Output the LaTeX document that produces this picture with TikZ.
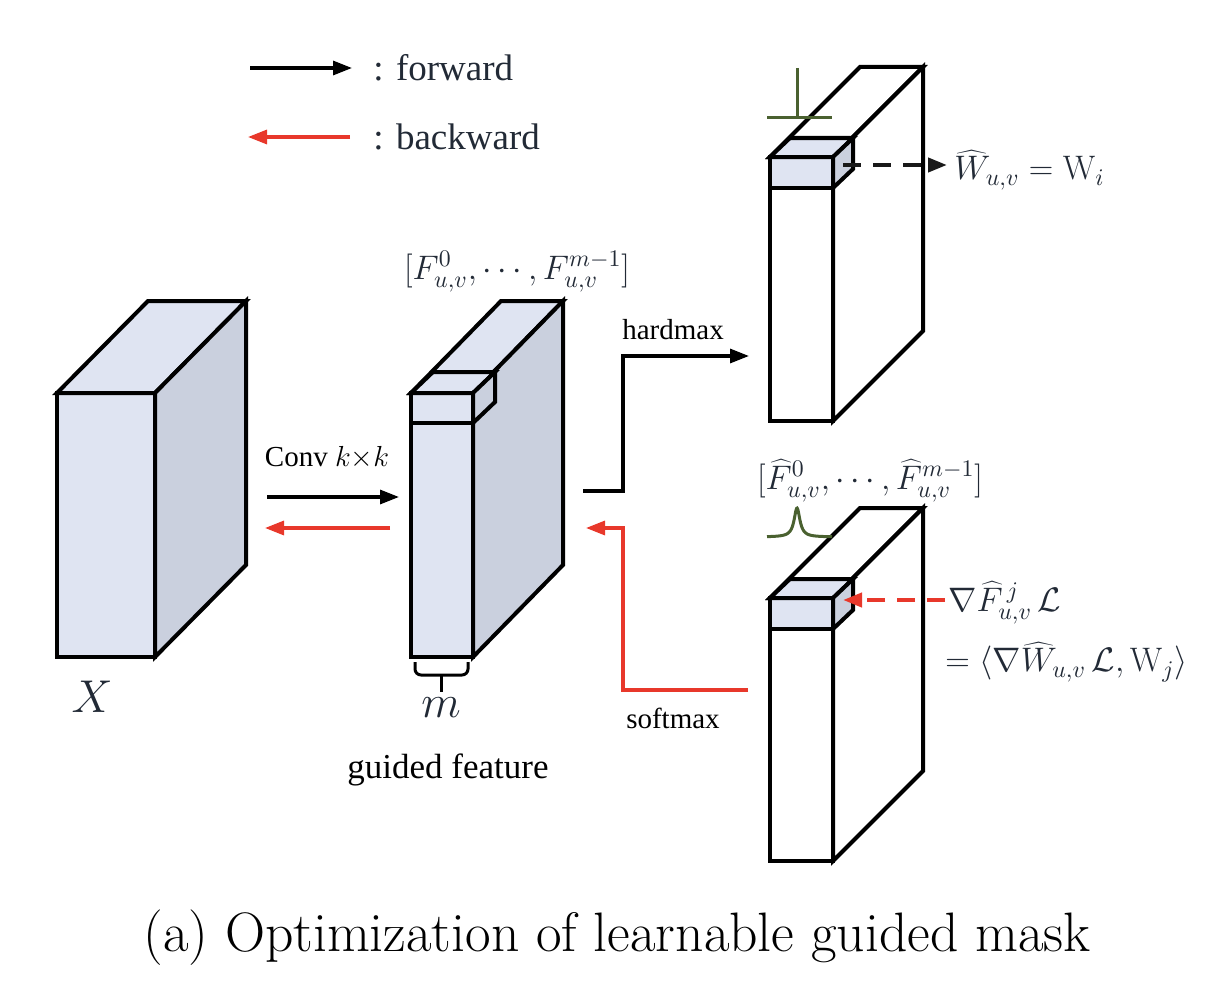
\RequirePackage{fix-cm}
\documentclass[tikz,border=0pt]{standalone}
\usepackage{fontspec}
\newfontfamily\tfont{Liberation Serif}
\usetikzlibrary{arrows.meta}
\definecolor{frontc}{RGB}{223,228,242}
\definecolor{sidec}{RGB}{202,208,222}
\definecolor{myred}{RGB}{232,56,43}
\definecolor{mygreen}{RGB}{74,97,48}
\definecolor{ink}{RGB}{34,42,54}
\newcommand\mycuboid[9]{%
  \filldraw[edge,fill=#7] (#1,#3) rectangle (#2,#4);
  \filldraw[edge,fill=#8] (#1,#3) -- ({#1+#5},{#3+#6}) -- ({#2+#5},{#3+#6}) -- (#2,#3) -- cycle;
  \filldraw[edge,fill=#9] (#2,#3) -- ({#2+#5},{#3+#6}) -- ({#2+#5},{#4+#6}) -- (#2,#4) -- cycle;
}
\begin{document}
\begin{tikzpicture}[x=0.5pt,y=-0.5pt,
  edge/.style={line width=2pt,line join=miter},
  tip/.style={-{Triangle[length=9.5pt,width=7pt]}},
  fw/.style={line width=1.6pt,draw=black,tip},
  bw/.style={line width=1.6pt,draw=myred,tip},
  lgd/.style={font=\tfont\fontsize{18.5}{21}\selectfont,text=ink,anchor=west,inner sep=0pt},
  lbl/.style={font=\tfont\fontsize{14.5}{17}\selectfont,inner sep=0pt},
  mth/.style={font=\fontsize{17}{20}\selectfont,text=ink,inner sep=0pt},
  big/.style={font=\fontsize{23}{27}\selectfont,text=ink,inner sep=0pt}]
\useasboundingbox (0,0) rectangle (1220,1006);

% legend
\coordinate (lfA) at (250,68); \coordinate (lfB) at (352,68);
\coordinate (lbA) at (350,137); \coordinate (lbB) at (248,137);
\draw[fw] (lfA) -- (lfB);
\draw[bw] (lbA) -- (lbB);
\node[lgd] (tfw) at (373,68) {: forward};
\node[lgd] (tbw) at (373,137) {: backward};

% input block X
\mycuboid{57}{155}{393}{657}{91}{-92}{frontc}{frontc}{sidec}
\node[big] (X) at (92,697) {$X$};

% guided feature block
\mycuboid{411}{473}{393}{657}{90}{-92}{frontc}{frontc}{sidec}
\mycuboid{411}{473}{393}{423}{22}{-21}{frontc}{frontc}{sidec}
\node[mth] (Flab) at (517,272) {$[F_{u,v}^{0},\cdots,F_{u,v}^{m-1}]$};
\coordinate (brA) at (415,662); \coordinate (brB) at (468,662); \coordinate (brC) at (441,692);
\draw[line width=1.5pt,rounded corners=3pt] (brA) |- (brC |- 0,675) -| (brB);
\draw[line width=1.5pt] (brC |- 0,675) -- (brC);
\node[big] (m) at (441,708) {$m$};
\node[lbl,font=\tfont\fontsize{17.5}{20}\selectfont] (gf) at (448,770) {guided feature};

% conv arrows
\node[lbl] (conv) at (327,458) {Conv $k{\times}k$};
\coordinate (cA) at (267,497); \coordinate (cB) at (399,497);
\coordinate (cC) at (390,528); \coordinate (cD) at (265,528);
\draw[fw] (cA) -- (cB);
\draw[bw] (cC) -- (cD);

% top-right block (hardmax)
\mycuboid{770}{833}{157}{421}{90}{-90}{white}{white}{white}
\mycuboid{770}{833}{157}{188}{20}{-19}{frontc}{frontc}{sidec}
\draw[mygreen,line width=1.5pt] (797,68) -- (797,118) (767,118) -- (832,118);
\coordinate (dA) at (843,165); \coordinate (dB) at (947,165);
\draw[line width=2pt,dash pattern=on 9pt off 6pt,tip,black!90] (dA) -- (dB);
\node[mth,anchor=west] (What) at (954,170) {$\widehat{W}_{u,v}=\mathrm{W}_i$};

% bottom-right block (softmax)
\mycuboid{770}{833}{598}{861}{90}{-90}{white}{white}{white}
\mycuboid{770}{833}{598}{629}{20}{-19}{frontc}{frontc}{sidec}
\draw[mygreen,line width=1.5pt,domain=-30:35,samples=150,smooth]
  plot ({797+\x},{537-29/(1+(\x/3.5)^2)});
\node[mth] (Fhat) at (870,481) {$[\widehat{F}_{u,v}^{0},\cdots,\widehat{F}_{u,v}^{m-1}]$};
\coordinate (rA) at (945,600); \coordinate (rB) at (843,600);
\draw[line width=2pt,dash pattern=on 9pt off 6pt,tip,myred] (rA) -- (rB);
\node[mth,anchor=west] (g1) at (948,603) {$\nabla\widehat{F}_{u,v}^{\,j}\,\mathcal{L}$};
\node[mth,anchor=west] (g2) at (945,662) {$=\big\langle\nabla\widehat{W}_{u,v}\,\mathcal{L},\mathrm{W}_j\big\rangle$};

% hardmax / softmax connectors
\coordinate (hA) at (583,491); \coordinate (hB) at (749,356);
\draw[fw] (hA) -- (623,491) |- (hB);
\node[lbl] (hm) at (673,330) {hardmax};
\coordinate (sA) at (748,690); \coordinate (sB) at (586,528);
\draw[bw] (sA) -- (623,690) |- (sB);
\node[lbl] (sm) at (673,718) {softmax};

% caption
\node[font=\fontsize{27.8}{33}\selectfont,inner sep=0pt] (cap) at (617,938) {(a) Optimization of learnable guided mask};
\end{tikzpicture}
\end{document}
